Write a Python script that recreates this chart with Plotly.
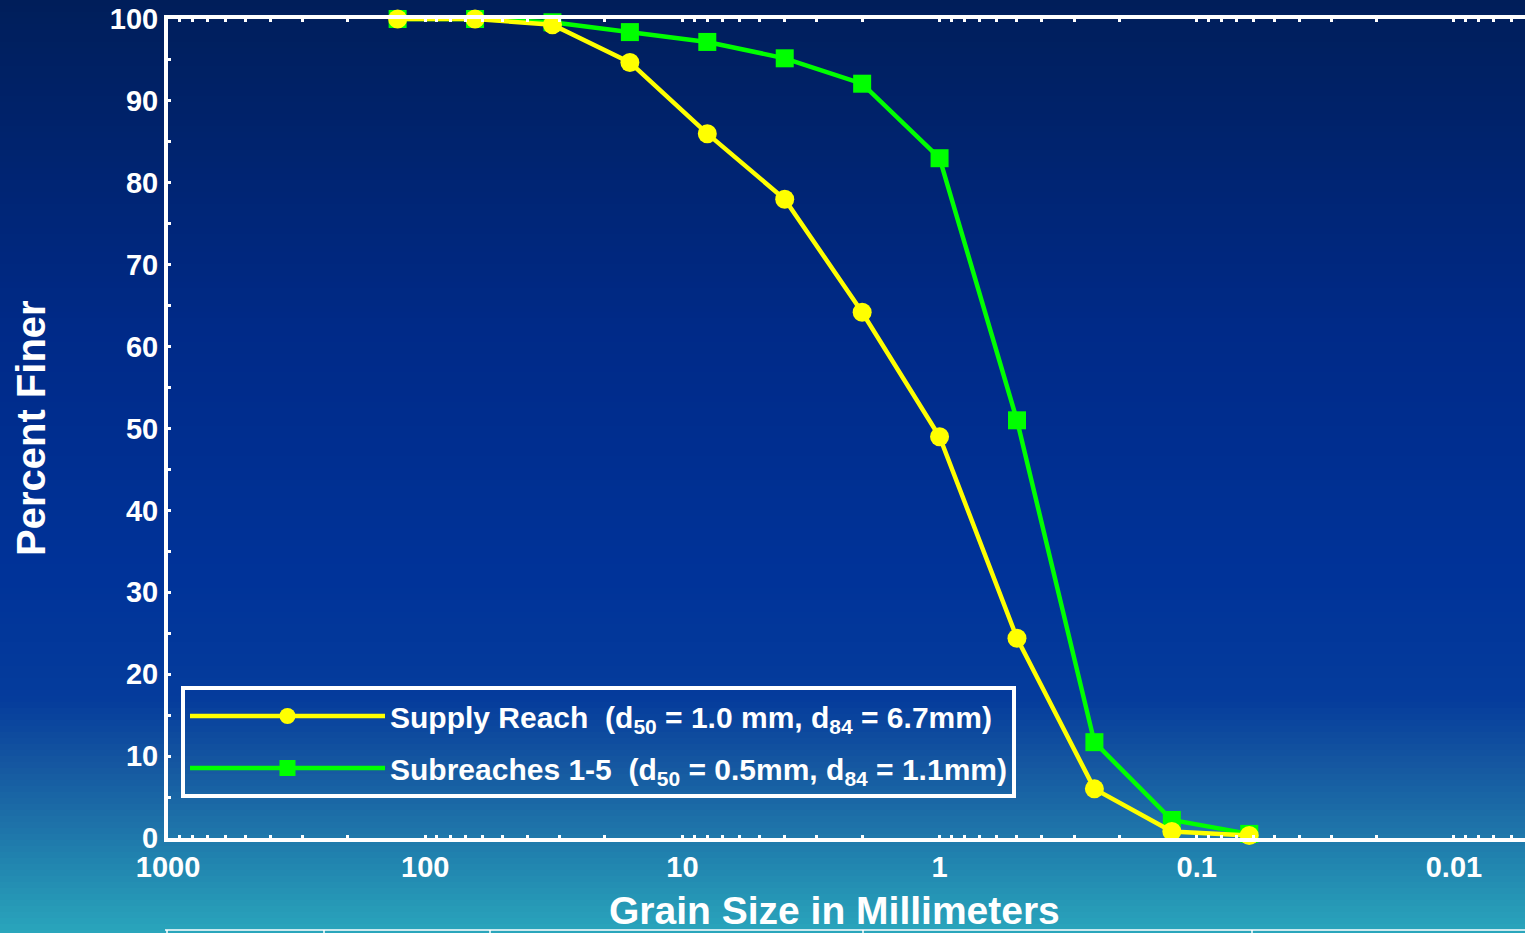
import plotly.graph_objects as go
import numpy as np

# ---- data ----
grain_size_mm = [128, 64, 32, 16, 8, 4, 2, 1, 0.5, 0.25, 0.125, 0.0625]
supply_reach = [100, 100, 99.3, 94.7, 86.0, 78.0, 64.2, 49.0, 24.4, 6.0, 0.8, 0.3]
subreaches_1_5 = [100, 100, 99.6, 98.4, 97.2, 95.2, 92.1, 83.0, 51.0, 11.7, 2.2, 0.5]
supply_name = "Supply Reach\u00a0\u00a0(d<sub>50</sub> = 1.0 mm, d<sub>84</sub> = 6.7mm)"
sub_name = "Subreaches 1-5\u00a0\u00a0(d<sub>50</sub> = 0.5mm, d<sub>84</sub> = 1.1mm)"
x_major = [1000, 100, 10, 1, 0.1, 0.01]
x_major_text = ["1000", "100", "10", "1", "0.1", "0.01"]
y_major = [0, 10, 20, 30, 40, 50, 60, 70, 80, 90, 100]

W, H = 1525, 933
L, R, T, B = 168, 0, 19, 95
PW, PH = W - L - R, H - T - B

def px_to_paper_x(px):
    return (px - L) / PW

def px_to_paper_y(py):
    return (H - B - py) / PH

# x tick values: all 1..9 x 10^k, labels only on decades
x_tickvals, x_ticktext = [], []
for k in range(-3, 4):
    for m in range(1, 10):
        v = m * 10.0 ** k
        if v > 1000.0001:
            continue
        x_tickvals.append(v)
        x_ticktext.append(x_major_text[x_major.index(10.0 ** k)] if m == 1 and 10.0 ** k in x_major else "")
y_tickvals = list(range(0, 101, 5))
y_ticktext = [str(v) if v in y_major else "" for v in y_tickvals]

fig = go.Figure()
fig.add_trace(go.Scatter(
    x=grain_size_mm, y=subreaches_1_5, name=sub_name, mode="lines+markers",
    line=dict(color="#00ff00", width=4.5),
    marker=dict(symbol="square", size=18, color="#00ff00"),
    legendgroup="b", legendrank=2, cliponaxis=False,
))
fig.add_trace(go.Scatter(
    x=grain_size_mm, y=supply_reach, name=supply_name, mode="lines+markers",
    line=dict(color="#ffff00", width=4.5),
    marker=dict(symbol="circle", size=19, color="#ffff00"),
    legendgroup="a", legendrank=1, cliponaxis=False,
))

# gradient background (stripes)
stops = [(0, (0x00, 0x1e, 0x5a)), (330, (0x00, 0x2a, 0x88)), (580, (0x00, 0x33, 0x99)),
         (700, (0x05, 0x3c, 0x9c)), (760, (0x14, 0x55, 0xa0)), (820, (0x1d, 0x70, 0xa8)),
         (870, (0x22, 0x88, 0xb0)), (933, (0x2a, 0xa6, 0xbc))]
shapes = []
step = 6
for y0 in range(0, H, step):
    yc = y0 + step / 2
    for i in range(len(stops) - 1):
        if stops[i][0] <= yc <= stops[i + 1][0]:
            f = (yc - stops[i][0]) / (stops[i + 1][0] - stops[i][0])
            c = tuple(int(round(a + (b - a) * f)) for a, b in zip(stops[i][1], stops[i + 1][1]))
            break
    shapes.append(dict(type="rect", xref="paper", yref="paper", layer="below",
                       x0=px_to_paper_x(-5), x1=px_to_paper_x(W + 5),
                       y0=px_to_paper_y(y0 + step + 0.5), y1=px_to_paper_y(y0),
                       fillcolor="rgb(%d,%d,%d)" % c, line=dict(width=0)))
# table edge at bottom
shapes.append(dict(type="line", xref="paper", yref="paper", x0=px_to_paper_x(165), x1=px_to_paper_x(W + 5),
                   y0=px_to_paper_y(930), y1=px_to_paper_y(930), line=dict(color="white", width=1.5)))
for xp in [167, 324, 490, 863, 1252]:
    shapes.append(dict(type="line", xref="paper", yref="paper", x0=px_to_paper_x(xp), x1=px_to_paper_x(xp),
                       y0=px_to_paper_y(930), y1=px_to_paper_y(936), line=dict(color="white", width=1.5)))

fig.update_layout(
    width=W, height=H,
    margin=dict(l=L, r=R, t=T, b=B),
    paper_bgcolor="#001e5a", plot_bgcolor="rgba(0,0,0,0)",
    shapes=shapes,
    font=dict(family="Liberation Sans, Arial, sans-serif", color="white"),
    showlegend=True,
    legend=dict(
        x=px_to_paper_x(181), y=px_to_paper_y(686), xanchor="left", yanchor="top",
        bgcolor="rgba(0,0,0,0)", bordercolor="white", borderwidth=4,
        font=dict(size=30, color="white", weight="bold"),
        itemwidth=195, traceorder="grouped", tracegroupgap=10,
    ),
    xaxis=dict(
        type="log", range=[3, np.log10(0.01) - (W - 1454) / 257.0],
        tickvals=x_tickvals, ticktext=x_ticktext, ticks="inside", ticklen=3, tickwidth=3,
        tickcolor="white", showline=True, linecolor="white", linewidth=4, mirror="ticks",
        showgrid=False, zeroline=False,
        tickfont=dict(size=29, color="white", weight="bold"),
    ),
    yaxis=dict(
        range=[0, 100], tickvals=y_tickvals, ticktext=y_ticktext, ticks="inside", ticklen=3, tickwidth=3,
        tickcolor="white", showline=True, linecolor="white", linewidth=4, mirror=False,
        showgrid=False, zeroline=False,
        tickfont=dict(size=29, color="white", weight="bold"),
    ),
    annotations=[
        dict(text="Percent Finer", xref="paper", yref="paper", x=px_to_paper_x(31), y=px_to_paper_y(428),
             textangle=-90, showarrow=False, xanchor="center", yanchor="middle",
             font=dict(size=40, color="white", weight="bold")),
        dict(text="Grain Size in Millimeters", xref="paper", yref="paper", x=px_to_paper_x(834),
             y=px_to_paper_y(911), showarrow=False, xanchor="center", yanchor="middle",
             font=dict(size=39, color="white", weight="bold")),
    ],
)

fig.write_html("out.html")
